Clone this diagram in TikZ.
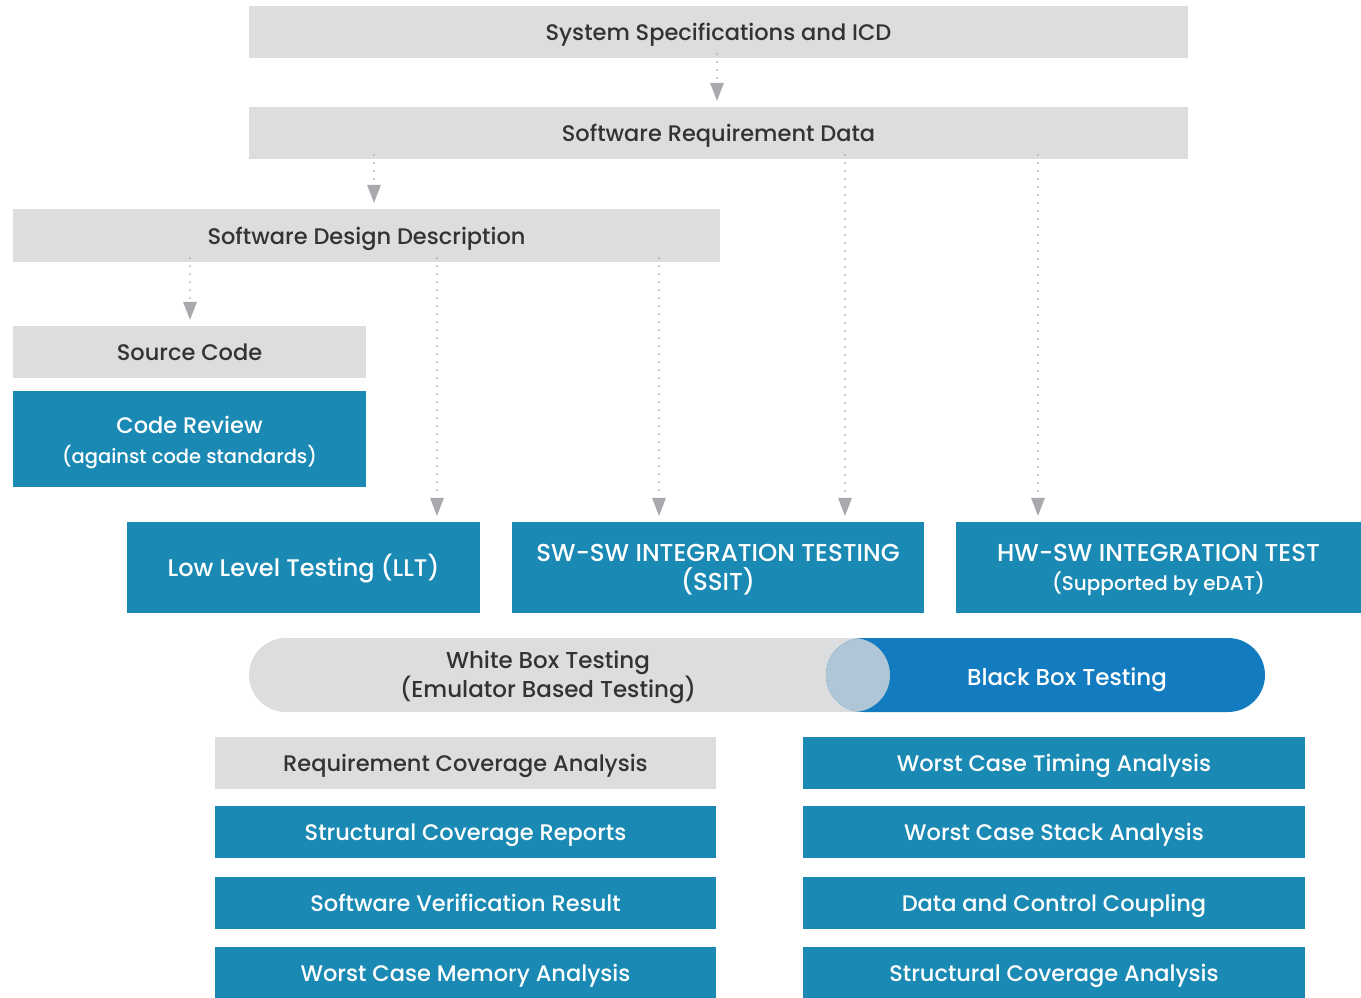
\documentclass[tikz,border=0pt]{standalone}
\usepackage{fontspec}
\setmainfont{Poppins}[UprightFont=* Medium]
\usetikzlibrary{arrows.meta}
\definecolor{graybox}{HTML}{DCDDDF}
\definecolor{bluebox}{HTML}{1A8AB5}
\definecolor{bbblue}{HTML}{137CC0}
\definecolor{lensc}{HTML}{AFC6D6}
\definecolor{txtdark}{HTML}{333335}
\definecolor{arrgray}{HTML}{A7A9AC}
\tikzset{
  gbox/.style={rectangle, fill=graybox, text=txtdark, inner sep=0pt, align=center, text height=17pt, text depth=0pt, font=\fontsize{22.5}{30}\selectfont},
  bbox/.style={rectangle, fill=bluebox, text=white, inner sep=0pt, align=center, text height=17pt, text depth=0pt, font=\fontsize{22.5}{30}\selectfont},
  mtext/.style={inner sep=0pt, align=center},
  flow/.style={draw=arrgray, line width=2pt, line cap=round, dash pattern=on 0pt off 8pt, shorten >=6pt,
    -{Triangle[width=14pt,length=18pt,fill=arrgray,line width=0pt]}},
  pilltext/.style={inner sep=0pt, align=center, font=\fontsize{23}{29}\selectfont},
}
\begin{document}
\begin{tikzpicture}[x=1pt,y=-1pt]
\useasboundingbox (0,0) rectangle (1361,997);
\node[gbox, minimum width=939, minimum height=52] (sys) at (718.5,32) {System Specifications and ICD};
\node[gbox, minimum width=939, minimum height=52] (srd) at (718.5,133) {Software Requirement Data};
\node[gbox, minimum width=707, minimum height=53] (sdd) at (366.5,235.5) {Software Design Description};
\node[gbox, minimum width=353, minimum height=52] (src) at (189.5,352) {Source Code};
\node[bbox, minimum width=353, minimum height=96] (cr) at (189.5,439) {};
\node[mtext, text=white, font=\fontsize{22.5}{30}\selectfont] (crt) at ([yshift=-3.5pt]cr.center) {Code Review\\{\fontsize{19.5}{30}\selectfont(against code standards)}};
\node[bbox, minimum width=353, minimum height=91, font=\fontsize{24}{30}\selectfont] (llt) at (303.5,567.5) {Low Level Testing (LLT)};
\node[bbox, minimum width=412, minimum height=91] (ssit) at (718,567.5) {};
\node[mtext, text=white, font=\fontsize{24.5}{29}\selectfont] (ssitt) at ([yshift=-2.5pt]ssit.center) {SW-SW INTEGRATION TESTING\\(SSIT)};
\node[bbox, minimum width=405, minimum height=91] (hwsw) at (1158.5,567.5) {};
\node[mtext, text=white, font=\fontsize{24.5}{29}\selectfont] (hwswt) at ([yshift=-2pt]hwsw.center) {HW-SW INTEGRATION TEST\\{\fontsize{20}{29}\selectfont(Supported by eDAT)}};

% connectors
\coordinate (c1) at (717,0);
\coordinate (c2) at (374,0);
\coordinate (c3) at (190,0);
\coordinate (c4) at (437,0);
\coordinate (c5) at (659,0);
\coordinate (c6) at (845,0);
\coordinate (c7) at (1038,0);
\draw[flow] ([yshift=4pt]sys.south -| c1) -- (srd.north -| c1);
\draw[flow] ([yshift=4pt]srd.south -| c2) -- (sdd.north -| c2);
\draw[flow] ([yshift=4pt]sdd.south -| c3) -- (src.north -| c3);
\draw[flow] ([yshift=4pt]sdd.south -| c4) -- (llt.north -| c4);
\draw[flow] ([yshift=4pt]sdd.south -| c5) -- (ssit.north -| c5);
\draw[flow] ([yshift=4pt]srd.south -| c6) -- (ssit.north -| c6);
\draw[flow] ([yshift=4pt]srd.south -| c7) -- (hwsw.north -| c7);

% pill
\node[rectangle, rounded corners=37pt, fill=graybox, minimum width=641, minimum height=74, inner sep=0pt] (wb) at (569.5,675) {};
\node[rectangle, rounded corners=37pt, fill=bbblue, minimum width=439, minimum height=74, inner sep=0pt] (bb) at (1045.5,675) {};
\begin{scope}
  \clip[rounded corners=37pt] (249,638) rectangle (890,712);
  \fill[lensc, rounded corners=37pt] (826,638) rectangle (1265,712);
\end{scope}
\node[pilltext, text=txtdark] (wbt) at (548,677) {White Box Testing\\(Emulator Based Testing)};
\node[pilltext, text=white, text height=16pt, text depth=0pt] (bbt) at (1067,677) {Black Box Testing};

% bottom boxes
\node[gbox, minimum width=501, minimum height=52] (rca) at (465.5,763) {Requirement Coverage Analysis};
\node[bbox, minimum width=501, minimum height=52] (scr) at (465.5,832) {Structural Coverage Reports};
\node[bbox, minimum width=501, minimum height=52] (svr) at (465.5,903) {Software Verification Result};
\node[bbox, minimum width=501, minimum height=52] (wcm) at (465.5,973) {Worst Case Memory Analysis};
\node[bbox, minimum width=502, minimum height=52] (wct) at (1054,763) {Worst Case Timing Analysis};
\node[bbox, minimum width=502, minimum height=52] (wcs) at (1054,832) {Worst Case Stack Analysis};
\node[bbox, minimum width=502, minimum height=52] (dcc) at (1054,903) {Data and Control Coupling};
\node[bbox, minimum width=502, minimum height=52] (sca) at (1054,973) {Structural Coverage Analysis};
\end{tikzpicture}
\end{document}
